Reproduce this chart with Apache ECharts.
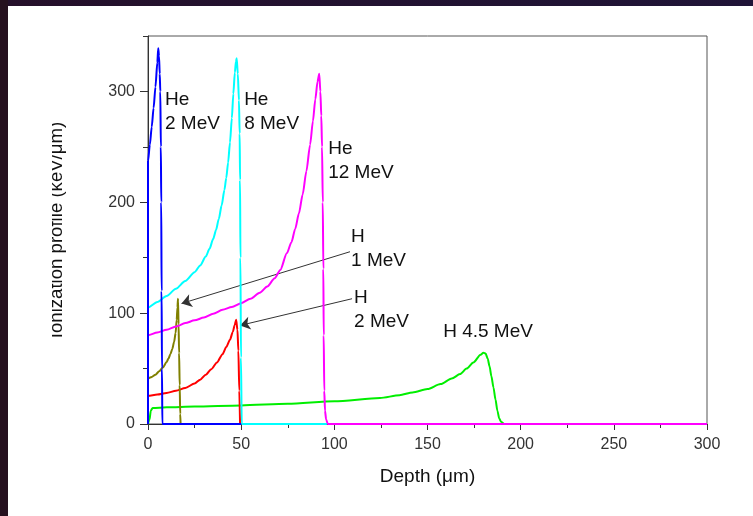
<!DOCTYPE html>
<html>
<head>
<meta charset="utf-8">
<script src="https://cdn.jsdelivr.net/npm/echarts@6/dist/echarts.min.js"></script>
<style>
  html, body { margin: 0; padding: 0; background: #ffffff; }
  #chart { width: 753px; height: 516px; }
</style>
</head>
<body>
<div id="chart"></div>
<script>
// Axis ticks
const depthTicks = [0, 50, 100, 150, 200, 250, 300];
const profileTicks = [0, 100, 200, 300];
const profileMinorTicks = [50, 150, 250, 350];

// Ionization profiles: [depth (µm), keV/µm]
const he2MeV = [[0,0],[0,237],[1,252],[2,268],[3,285],[4,304],[5,326],[5.5,339],[5.9,332],[6.3,316],[6.6,300],[6.9,250],[7.1,200],[7.3,120],[7.5,50],[7.7,0],[50,0]];
const he8MeV = [[0,0],[0,105],[5,110],[10,115.5],[15,122],[20,129],[25,137],[28,143],[31,151],[33,158],[35,167],[36.5,175],[38,185],[39.5,197],[41,211],[42,222],[43,236],[44,254],[45,276],[45.8,298],[46.6,317],[47.2,327],[47.6,330],[48.2,316],[48.8,292],[49.2,262],[49.4,220],[49.6,150],[49.9,60],[50.3,0],[96,0]];
const he12MeV = [[0,0],[0,80],[5,82.5],[10,85],[15,88],[20,91],[25,93.5],[30,96],[35,99.5],[40,103],[45,105.5],[50,109],[55,113],[60,118.5],[64,124],[68,131.5],[71,139],[74.5,154],[77,164],[79,176],[81,190],[83,207],[85,228],[87,252],[88.5,273],[89.8,293],[91,309],[91.9,316],[92.5,300],[93,278],[93.4,250],[93.8,200],[94.1,140],[94.3,80],[94.6,30],[95,12],[95.6,4],[96.5,0],[300,0]];
const h1MeV = [[0,0],[0,41],[2,42.5],[4,44.5],[6,47.5],[8,51],[10,56],[11,59],[12,63],[13,67.5],[14,74],[14.8,82],[15.4,94],[15.8,105],[16.1,113],[16.4,90],[16.7,64],[17,35],[17.3,9],[17.5,0]];
const h2MeV = [[0,0],[0,25.5],[5,26.5],[10,28],[15,30],[20,32.5],[25,36.5],[28,40],[31,44.5],[34,49.5],[37,55.5],[40,63],[42,69.5],[44,76],[45.5,83],[46.5,89],[47.3,94],[48,85],[48.5,66],[49,30],[49.4,0]];
const h45MeV = [[0,0],[0.8,4],[1.5,12],[2.5,14.5],[10,15],[25,15.8],[50,16.8],[75,18.2],[100,20.5],[124.5,23.4],[135,26],[142,28.5],[150,31.5],[157,36],[163,41],[167.5,45],[171,50],[174.6,55.5],[178.5,62.5],[180,64.3],[181.2,63.5],[182.3,59],[183.3,52],[184.3,43],[185.4,33],[186.5,22],[187.5,12],[188.5,5],[189.5,2],[191,0]];

// Curve captions and pointer arrows (data coordinates)
const captions = [
  { text: 'He\n2 MeV', at: [9.1, 282] },
  { text: 'He\n8 MeV', at: [51.6, 282] },
  { text: 'He\n12 MeV', at: [96.7, 237.8] },
  { text: 'H\n1 MeV', at: [109, 158.4] },
  { text: 'H\n2 MeV', at: [110.6, 103.3] },
  { text: 'H 4.5 MeV', at: [158.4, 82.9] }
];
const arrowH1 = [[108.4, 155.4], [18, 108.7]];
const arrowH2 = [[109.5, 113], [49.4, 88.9]];

const FONT = 'Liberation Sans, Arial, sans-serif';
const chart = echarts.init(document.getElementById('chart'), null, { renderer: 'canvas' });

function line(name, data, color, z, arrow) {
  const s = {
    name, type: 'line', data, z,
    showSymbol: false, symbol: 'none',
    smooth: 0.25, smoothMonotone: 'x',
    lineStyle: { color, width: 2 },
    itemStyle: { color },
    emphasis: { disabled: true },
    animation: false
  };
  if (arrow) {
    s.markLine = {
      silent: true,
      symbol: ['none', 'arrow'],
      symbolSize: 10,
      label: { show: false },
      lineStyle: { color: '#333', width: 1, type: 'solid' },
      data: [[{ coord: arrow[0] }, { coord: arrow[1] }]],
      animation: false
    };
  }
  return s;
}

chart.setOption({
  backgroundColor: '#ffffff',
  animation: false,
  grid: { left: 148, right: 46, top: 36, bottom: 92, show: true, borderColor: '#555', borderWidth: 1, backgroundColor: 'transparent' },
  xAxis: {
    type: 'value', min: 0, max: 300, interval: 50,
    name: 'Depth (μm)', nameLocation: 'middle', nameGap: 43,
    nameTextStyle: { fontFamily: FONT, fontSize: 19, color: '#111' },
    axisLine: { lineStyle: { color: '#333', width: 1 } },
    axisTick: { show: true, length: 6, lineStyle: { color: '#333' } },
    minorTick: { show: true, splitNumber: 2, length: 4, lineStyle: { color: '#333' } },
    axisLabel: { customValues: depthTicks, margin: 13, fontFamily: FONT, fontSize: 16, color: '#333' },
    splitLine: { show: false }
  },
  yAxis: [{
    type: 'value', min: 0, max: 350, interval: 50,
    name: 'Ionization profile (keV/μm)', nameLocation: 'middle', nameGap: 82, nameRotate: 90,
    nameTextStyle: { fontFamily: FONT, fontSize: 18.6, color: '#111' },
    axisLine: { show: true, lineStyle: { color: '#333', width: 1 } },
    axisTick: { show: true, customValues: profileTicks, length: 8, lineStyle: { color: '#333' } },
    axisLabel: { customValues: profileTicks, margin: 13, fontFamily: FONT, fontSize: 16, color: '#333' },
    splitLine: { show: false }
  }, {
    type: 'value', min: 0, max: 350, interval: 50, position: 'left',
    axisLine: { show: false },
    axisTick: { show: true, customValues: profileMinorTicks, length: 5, lineStyle: { color: '#333' } },
    axisLabel: { show: false },
    splitLine: { show: false }
  }],
  series: [
    line('H 4.5 MeV', h45MeV, '#00ee00', 2),
    line('H 2 MeV', h2MeV, '#ff0000', 3, arrowH2),
    line('H 1 MeV', h1MeV, '#808000', 4, arrowH1),
    line('He 12 MeV', he12MeV, '#ff00ff', 5),
    line('He 8 MeV', he8MeV, '#00ffff', 6),
    line('He 2 MeV', he2MeV, '#0000ff', 7)
  ]
});

// Captions placed through the axes' own coordinate conversion
const graphics = captions.map(c => {
  const p = chart.convertToPixel({ gridIndex: 0 }, c.at);
  return {
    type: 'text', x: p[0], y: p[1], z: 50, silent: true,
    style: { text: c.text, fill: '#111', font: '19px ' + FONT, lineHeight: 24, textAlign: 'left', textVerticalAlign: 'middle' }
  };
});

// Page frame and the trimmed edge of the vertical title
graphics.push(
  { type: 'rect', z: 100, silent: true, shape: { x: 8, y: 90, width: 44, height: 290 }, style: { fill: '#ffffff' } },
  { type: 'rect', z: 101, silent: true, shape: { x: 0, y: 0, width: 753, height: 6 },
    style: { fill: new echarts.graphic.LinearGradient(0, 0, 1, 0, [{ offset: 0, color: '#25102a' }, { offset: 1, color: '#1f1437' }]) } },
  { type: 'rect', z: 101, silent: true, shape: { x: 0, y: 0, width: 8, height: 516 }, style: { fill: '#26111f' } }
);
chart.setOption({ graphic: graphics });
</script>
</body>
</html>
